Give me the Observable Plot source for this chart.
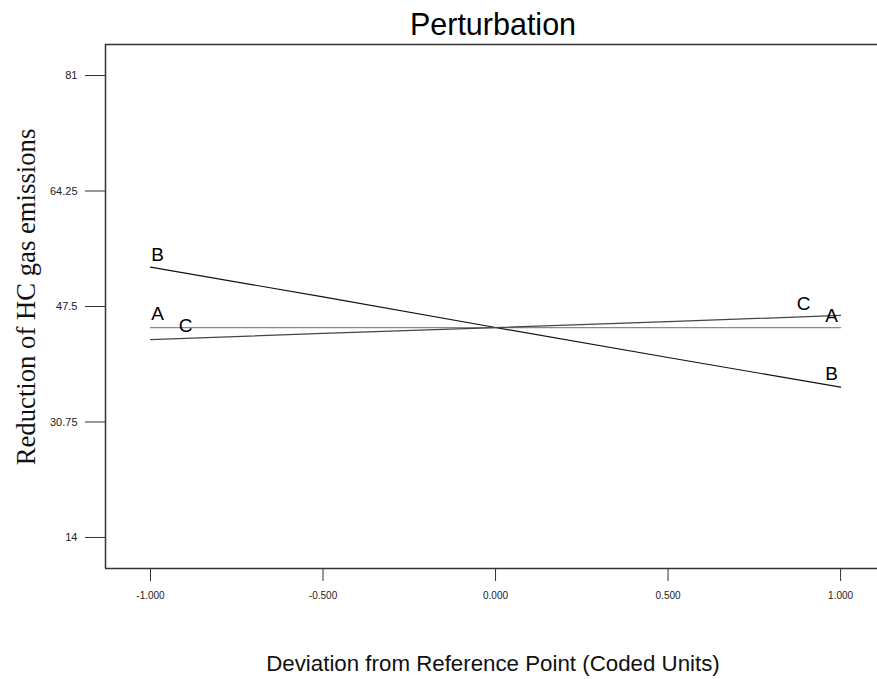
<!DOCTYPE html>
<html>
<head>
<meta charset="utf-8">
<script src="https://cdn.jsdelivr.net/npm/d3@7"></script>
<script src="https://cdn.jsdelivr.net/npm/@observablehq/plot@0.6"></script>
<style>
  html, body { margin: 0; padding: 0; background: #fff; }
  #wrap { position: relative; width: 877px; height: 679px; overflow: hidden; }
  #wrap svg { position: absolute; left: 0; top: 0; }
  .lbl { position: absolute; white-space: nowrap; color: #000; }
  #title { left: 493px; top: 7px; transform: translateX(-50%); font: 30.5px "Liberation Sans", Arial, sans-serif; }
  #xlab { left: 493px; top: 651px; transform: translateX(-50%); font: 22.3px "Liberation Sans", Arial, sans-serif; color: #111; }
  #ylab { left: 26px; top: 297px; transform: translate(-50%, -50%) rotate(-90deg); font: 26.7px "Liberation Serif", "Times New Roman", serif; color: #111; }
</style>
</head>
<body>
<div id="wrap">
  <div id="title" class="lbl">Perturbation</div>
  <div id="xlab" class="lbl">Deviation from Reference Point (Coded Units)</div>
  <div id="ylab" class="lbl">Reduction of HC gas emissions</div>
</div>
<script>
// Data
const deviation = [-1, -0.5, 0, 0.5, 1];
const seriesA = [44.45, 44.45, 44.45, 44.45, 44.45];
const seriesB = [53.2, 48.9, 44.45, 40.1, 35.8];
const seriesC = [42.7, 43.6, 44.45, 45.3, 46.2];
const xTicks = [-1, -0.5, 0, 0.5, 1];
const yTicks = [14, 30.75, 47.5, 64.25, 81];
const factorNames = ["A", "B", "C"];

const series = {A: seriesA, B: seriesB, C: seriesC};
const rows = factorNames.flatMap(f => deviation.map((x, i) => ({factor: f, x, y: series[f][i]})));

const xDomain = [-1.1304, 1.107];
const yDomain = [9.5, 85.5];
const strokes = {A: "#8a8a8a", B: "#111", C: "#444"};

// label placements: [factor, end index, dx, dy]
const last = deviation.length - 1;
const labelPlace = [
  ["A", 0, 7, -14], ["C", 0, 35, -14], ["B", 0, 7, -12],
  ["C", last, -37, -12], ["A", last, -9, -12], ["B", last, -9, -13]
];

const marks = [
  Plot.axisY(yTicks, {tickSize: 20, tickPadding: 8, tickFormat: d => String(d), fontSize: 11, label: null, stroke: "#333", color: "#222"}),
  Plot.axisX(xTicks, {tickSize: 13, tickPadding: 10, tickFormat: d => d.toFixed(3), fontSize: 10, label: null, stroke: "#333"}),
  Plot.ruleX([xDomain[0]], {stroke: "#333", strokeWidth: 1.5}),
  Plot.ruleY(yDomain, {stroke: "#333", strokeWidth: 1.5}),
  ...factorNames.map(f => Plot.line(rows.filter(r => r.factor === f), {x: "x", y: "y", stroke: strokes[f], strokeWidth: 1.2}))
];
for (const [f, i, dx, dy] of labelPlace) {
  marks.push(Plot.text([{x: deviation[i], y: series[f][i], t: f}], {
    x: "x", y: "y", text: "t", dx, dy, fontSize: 19, fill: "#000",
    fontFamily: "Liberation Sans, Arial, sans-serif"
  }));
}

const chart = Plot.plot({
  width: 877, height: 679,
  marginLeft: 105, marginRight: 0, marginTop: 44, marginBottom: 111,
  x: {domain: xDomain, axis: null},
  y: {domain: yDomain, axis: null},
  style: {fontFamily: "Liberation Sans, Arial, sans-serif", background: "transparent", color: "#222"},
  marks
});
document.getElementById("wrap").prepend(chart);
</script>
</body>
</html>
